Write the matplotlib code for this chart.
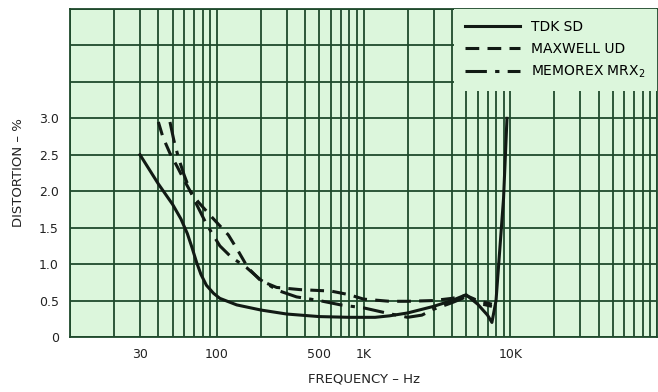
import matplotlib
matplotlib.use("Agg")
import matplotlib.pyplot as plt
from matplotlib.ticker import NullFormatter

# values (Hz, % distortion)
tdk_freq = [30, 40, 50, 57, 63, 68, 73, 78, 85, 95, 105, 137, 200, 300, 500, 800,
            1200, 1500, 2000, 3000, 4000, 5000, 6000, 7000, 7500, 8000, 9000, 9500]
tdk_dist = [2.5, 2.1, 1.82, 1.62, 1.42, 1.22, 1.02, 0.86, 0.71, 0.6, 0.53, 0.44, 0.37, 0.315, 0.28, 0.27,
            0.27, 0.29, 0.33, 0.42, 0.5, 0.58, 0.45, 0.3, 0.2, 0.5, 1.9, 3.0]

maxwell_freq = [40, 43, 48, 54, 60, 66, 75, 95, 120, 140, 163, 200, 256, 370, 600,
                800, 1000, 1500, 2000, 3000, 4000, 5000, 6000, 7500]
maxwell_dist = [2.95, 2.74, 2.52, 2.33, 2.15, 2.0, 1.85, 1.62, 1.4, 1.18, 0.95, 0.77, 0.68, 0.65, 0.63,
                0.58, 0.52, 0.49, 0.49, 0.5, 0.53, 0.57, 0.5, 0.45]

memorex_freq = [48, 51, 55, 60, 66, 72, 85, 105, 125, 160, 200, 260, 350, 500, 700,
                1000, 1500, 2000, 2500, 3000, 4000, 5000, 6500, 7500]
memorex_dist = [2.95, 2.7, 2.45, 2.22, 2.0, 1.84, 1.55, 1.25, 1.1, 0.95, 0.78, 0.64, 0.55, 0.5, 0.44,
                0.4, 0.32, 0.27, 0.3, 0.38, 0.47, 0.55, 0.45, 0.42]

y_ticks = [0, 0.5, 1.0, 1.5, 2.0, 2.5, 3.0]
y_labels = ["0", "0.5", "1.0", "1.5", "2.0", "2.5", "3.0"]
x_ticks = [30, 100, 500, 1000, 10000]
x_labels = ["30", "100", "500", "1K", "10K"]

bg = "#dcf6dc"
grid_col = "#1f4a2c"
ink = "#111a14"

fig = plt.figure(figsize=(6.58, 3.92), dpi=100)
ax = fig.add_axes([70 / 658, 55 / 392, 587 / 658, 328 / 392])
ax.set_facecolor(bg)
ax.set_xscale("log")
ax.set_xlim(10, 100000)
ax.set_ylim(0, 4.5)

# grid: every 1-9 per decade, every 0.5 vertically (drawn as plain lines so
# none are dropped where they coincide with a labelled tick)
grid_x = [m * 10 ** e for e in range(1, 5) for m in range(1, 10)] + [100000]
grid_y = [0.5 * i for i in range(10)]
for gx in grid_x:
    ax.axvline(gx, color=grid_col, lw=1.3, zorder=0.5)
for gy in grid_y:
    ax.axhline(gy, color=grid_col, lw=1.3, zorder=0.5)

ax.set_xticks(x_ticks)
ax.set_xticklabels(x_labels)
ax.xaxis.set_minor_formatter(NullFormatter())
ax.set_yticks(y_ticks)
ax.set_yticklabels(y_labels)
ax.tick_params(which="both", length=0, labelsize=9, colors="#222222", pad=8)
for s in ax.spines.values():
    s.set_color(grid_col)
    s.set_linewidth(1.3)

ax.plot(tdk_freq, tdk_dist, color=ink, lw=2.2, label="TDK SD", zorder=3)
ax.plot(maxwell_freq, maxwell_dist, color=ink, lw=2.2, dashes=(4.5, 2.7), label="MAXWELL UD", zorder=3)
ax.plot(memorex_freq, memorex_dist, color=ink, lw=2.2, dashes=(7, 2.7, 1.4, 2.7),
        label="MEMOREX MRX$_2$", zorder=3)

leg = ax.legend(loc="upper right", bbox_to_anchor=(1.0, 1.0), borderaxespad=0,
                fontsize=10, handlelength=4.0, labelspacing=0.55, handletextpad=0.8,
                borderpad=0.8, frameon=True, fancybox=False)
leg.get_frame().set_facecolor(bg)
leg.get_frame().set_edgecolor("none")
leg.get_frame().set_alpha(1)
leg.set_zorder(5)

ax.set_xlabel("FREQUENCY – Hz", fontsize=9.5, color="#222222", labelpad=8)
ax.set_ylabel("DISTORTION – %", fontsize=9.5, color="#222222", labelpad=10)

fig.savefig("out.png", dpi=100, facecolor="white")
